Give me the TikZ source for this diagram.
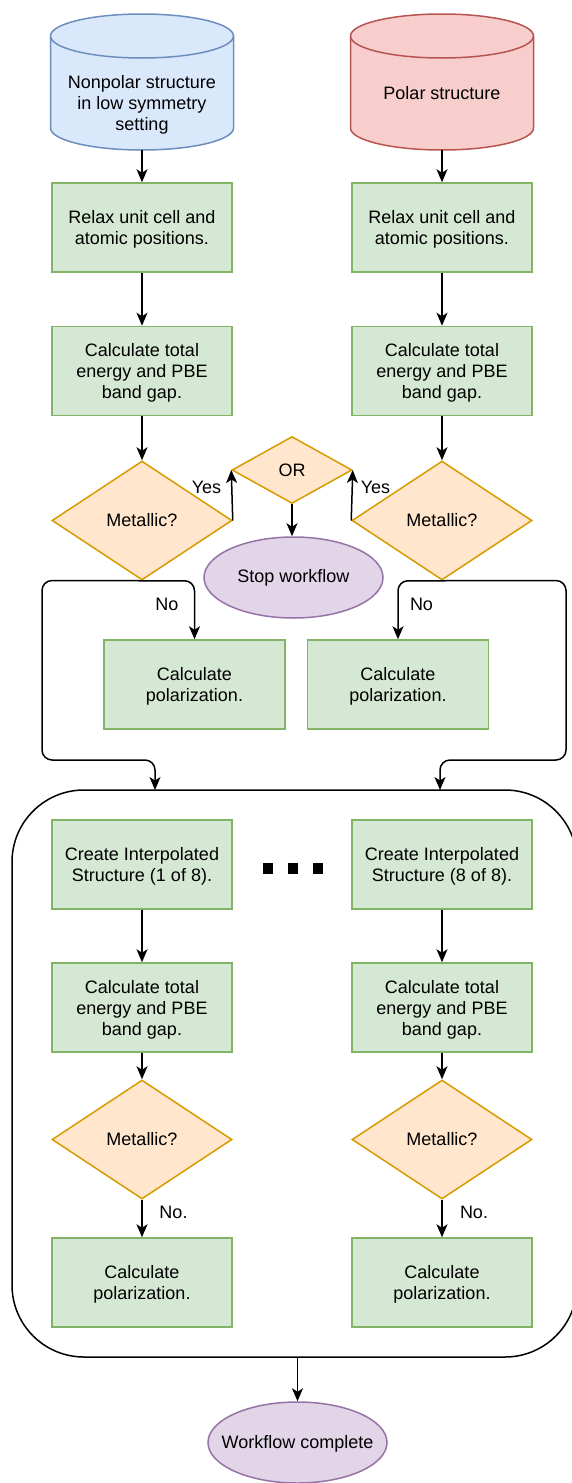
\documentclass[tikz,border=0pt]{standalone}
\usepackage{fontspec}
\setmainfont{Liberation Sans}
\usetikzlibrary{shapes.geometric,arrows.meta,calc}
\definecolor{bfill}{HTML}{DAE8FC}\definecolor{bstroke}{HTML}{6C8EBF}
\definecolor{rfill}{HTML}{F8CECC}\definecolor{rstroke}{HTML}{B85450}
\definecolor{gfill}{HTML}{D5E8D4}\definecolor{gstroke}{HTML}{82B366}
\definecolor{ofill}{HTML}{FFE6CC}\definecolor{ostroke}{HTML}{D79B00}
\definecolor{pfill}{HTML}{E1D5E7}\definecolor{pstroke}{HTML}{9673A6}
\tikzset{
  every node/.style={font=\fontsize{18}{21}\selectfont, align=center},
  stepbox/.style={rectangle, draw=gstroke, fill=gfill, line width=1.5pt, minimum width=180pt, minimum height=89pt, inner sep=0pt, text depth=-2pt},
  decision/.style={diamond, draw=ostroke, fill=ofill, line width=1.5pt, minimum width=180pt, minimum height=119pt, inner sep=0pt},
  terminal/.style={ellipse, draw=pstroke, fill=pfill, line width=1.5pt, minimum width=179pt, minimum height=81pt, inner sep=0pt},
  hull/.style={rectangle, inner sep=0pt},
  arr/.style={-{Stealth[length=13pt,width=11pt,inset=3.5pt]}, line width=1.5pt, black},
  lbl/.style={inner sep=0pt},
  dot/.style={rectangle, fill=black, minimum width=10pt, minimum height=11pt, inner sep=0pt}
}
\begin{document}
\begin{tikzpicture}[x=1pt,y=-1pt]
\useasboundingbox (0,0) rectangle (572,1483);
% container
\node[draw=black, line width=1.5pt, rounded corners=72pt, minimum width=565pt, minimum height=567pt, inner sep=0pt] (cont) at (294.5,1073.5) {};
% cylinders
\filldraw[draw=bstroke, fill=bfill, line width=1.5pt] (50.5,36) -- (50.5,128) arc[start angle=180,end angle=360,x radius=91.5pt,y radius=22pt] -- (233.5,36) arc[start angle=0,end angle=180,x radius=91.5pt,y radius=22pt] -- cycle;
\draw[bstroke, line width=1.5pt] (50.5,36) arc[start angle=180,end angle=360,x radius=91.5pt,y radius=22pt];
\filldraw[draw=rstroke, fill=rfill, line width=1.5pt] (350.5,36) -- (350.5,128) arc[start angle=180,end angle=360,x radius=91.5pt,y radius=22pt] -- (533.5,36) arc[start angle=0,end angle=180,x radius=91.5pt,y radius=22pt] -- cycle;
\draw[rstroke, line width=1.5pt] (350.5,36) arc[start angle=180,end angle=360,x radius=91.5pt,y radius=22pt];
\node[hull, minimum width=183pt, minimum height=136pt] (cylL) at (142,82) {};
\node[hull, minimum width=183pt, minimum height=136pt] (cylR) at (442,82) {};
\node (cylLt) at (142,105) {Nonpolar structure\\in low symmetry\\setting};
\node (cylRt) at (442,93) {Polar structure};
% top columns
\node[stepbox] (relL) at (142,227.5) {Relax unit cell and\\atomic positions.};
\node[stepbox] (relR) at (442,227.5) {Relax unit cell and\\atomic positions.};
\node[stepbox] (enL) at (142,371) {Calculate total\\energy and PBE\\band gap.};
\node[stepbox] (enR) at (442,371) {Calculate total\\energy and PBE\\band gap.};
\node[decision] (mL) at (142,520.5) {Metallic?};
\node[decision] (mR) at (442,520.5) {Metallic?};
\node[decision, minimum width=120pt, minimum height=67pt] (or) at (292,470) {};
\node (orT) at (292,470) {OR};
\node[terminal] (stop) at (293.5,577.5) {};
\node (stopT) at (293.5,577.5) {Stop workflow};
\node[stepbox, minimum width=181pt] (polL) at (194.5,684.5) {Calculate\\polarization.};
\node[stepbox, minimum width=181pt] (polR) at (398,684.5) {Calculate\\polarization.};
% inner columns
\node[stepbox] (crL) at (142,864.5) {Create Interpolated\\Structure (1 of 8).};
\node[stepbox] (crR) at (442,864.5) {Create Interpolated\\Structure (8 of 8).};
\node[dot] (d1) at (268,868.5) {};
\node[dot] (d2) at (292.5,868.5) {};
\node[dot] (d3) at (317.5,868.5) {};
\node[stepbox] (en2L) at (142,1007.5) {Calculate total\\energy and PBE\\band gap.};
\node[stepbox] (en2R) at (442,1007.5) {Calculate total\\energy and PBE\\band gap.};
\node[decision] (m2L) at (142,1139.5) {Metallic?};
\node[decision] (m2R) at (442,1139.5) {Metallic?};
\node[stepbox] (pol2L) at (142,1282.5) {Calculate\\polarization.};
\node[stepbox] (pol2R) at (442,1282.5) {Calculate\\polarization.};
\node[terminal] (done) at (297.5,1442.5) {};
\node (doneT) at (297.5,1444) {Workflow complete};
% coordinates on container top / bottom
\coordinate (inL) at (155,790);
\coordinate (inR) at (440,790);
\coordinate (outB) at (297.5,1357);
% connectors
\draw[arr] (cylL.south) -- (relL.north);
\draw[arr] (cylR.south -| relR.north) -- (relR.north);
\draw[arr] (relL) -- (enL);
\draw[arr] (relR) -- (enR);
\draw[arr] (enL) -- (mL);
\draw[arr] (enR) -- (mR);
\draw[arr] (mL.east) -- (or.west);
\draw[arr] (mR.west) -- (or.east);
\node[lbl] (yesL) at (206.5,487) {Yes};
\node[lbl] (yesR) at (375.5,487) {Yes};
\draw[arr] (or.south) -- (stop.north -| or.south);
\draw[arr, rounded corners=10pt] (mL.south) -| (polL.north);
\draw[arr, rounded corners=10pt] (mL.south) -- (42,580.5) -- (42,760) -- (155,760) -- (inL);
\draw[arr, rounded corners=10pt] (mR.south) -| (polR.north);
\draw[arr, rounded corners=10pt] (mR.south) -- (566,580.5) -- (566,760) -- (440,760) -- (inR);
\node[lbl] (noL) at (167,604) {No};
\node[lbl] (noR) at (421.5,604) {No};
\draw[arr] (crL) -- (en2L);
\draw[arr] (crR) -- (en2R);
\draw[arr] (en2L) -- (m2L);
\draw[arr] (en2R) -- (m2R);
\draw[arr] (m2L) -- (pol2L);
\draw[arr] (m2R) -- (pol2R);
\node[lbl] (no2L) at (173.5,1212) {No.};
\node[lbl] (no2R) at (474,1212) {No.};
\draw[arr] (outB) -- (done.north);
\end{tikzpicture}
\end{document}
